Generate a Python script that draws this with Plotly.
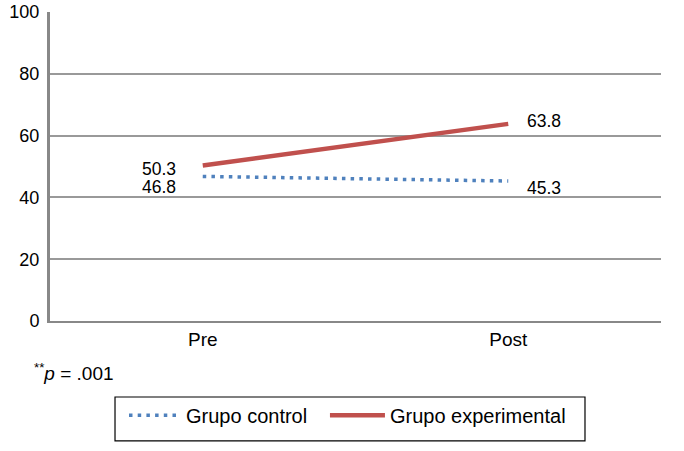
import plotly.graph_objects as go

categories = ["Pre", "Post"]
control = [46.8, 45.3]
experimental = [50.3, 63.8]
y_ticks = [0, 20, 40, 60, 80, 100]

FONT = "Liberation Sans, Arial, sans-serif"

fig = go.Figure()
fig.add_trace(go.Scatter(
    x=categories, y=control, mode="lines", name="Grupo control",
    line=dict(color="#4F81BD", width=3.5, dash="3.5px,5.2px"),
    legend="legend",
))
fig.add_trace(go.Scatter(
    x=categories, y=experimental, mode="lines", name="Grupo experimental",
    line=dict(color="#C0504D", width=4.5),
    legend="legend2",
))

# data labels
label_specs = [
    (categories[0], experimental[0], -25, -3, "right"),
    (categories[0], control[0], -25, -11, "right"),
    (categories[1], experimental[1], 17, 3, "left"),
    (categories[1], control[1], 17, -7, "left"),
]
for x, y, xs, ys, anchor in label_specs:
    fig.add_annotation(x=x, y=y, text=f"{y:.1f}", showarrow=False,
                       xanchor=anchor, yanchor="middle", xshift=xs, yshift=ys,
                       font=dict(family=FONT, size=17.5, color="black"))

fig.add_annotation(xref="paper", yref="paper", x=-0.029, y=-0.165,
                   xanchor="left", yanchor="middle", showarrow=False,
                   text="<sup>**</sup><i>p</i> = .001",
                   font=dict(family=FONT, size=19, color="black"))

# legend frame
fig.add_shape(type="rect", xref="paper", yref="paper",
              x0=0.1064, x1=0.8756, y0=-0.388, y1=-0.246,
              line=dict(color="black", width=1.2), fillcolor="rgba(0,0,0,0)")

legend_common = dict(orientation="h", yanchor="middle", y=-0.305, xanchor="left",
                     borderwidth=0, bgcolor="rgba(0,0,0,0)",
                     font=dict(family=FONT, size=20, color="black"))

fig.update_layout(
    width=684, height=451,
    margin=dict(l=50, r=23, t=12, b=130, autoexpand=False),
    paper_bgcolor="white", plot_bgcolor="white",
    font=dict(family=FONT, size=18, color="black"),
    showlegend=True,
    legend=dict(x=0.1211, itemwidth=52, **legend_common),
    legend2=dict(x=0.450, itemwidth=55, **legend_common),
    xaxis=dict(range=[-0.5, 1.5], showline=True, linecolor="#888888", linewidth=2,
               showgrid=False, ticks="", tickfont=dict(size=19), fixedrange=True),
    yaxis=dict(range=[0, 100], tickvals=y_ticks, showline=True, linecolor="#888888",
               linewidth=3, showgrid=True, gridcolor="#999999", gridwidth=1.5,
               ticks="", zeroline=False, tickfont=dict(size=18), ticklabelstandoff=4),
)

fig.write_html("out.html", config={"displayModeBar": False},
               post_script="document.body.style.margin='0';document.body.style.overflow='hidden';")
